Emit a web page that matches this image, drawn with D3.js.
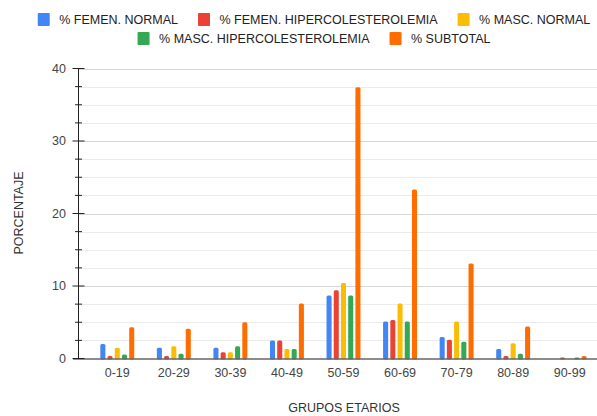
<!DOCTYPE html>
<html>
<head>
<meta charset="utf-8">
<script src="https://cdn.jsdelivr.net/npm/d3@7"></script>
<style>
  body { margin: 0; background: #fff; }
  text { font-family: "Liberation Sans", Arial, sans-serif; }
</style>
</head>
<body>
<script>
var width = 597,
    height = 416;

// age groups
var groups = ["0-19", "20-29", "30-39", "40-49", "50-59", "60-69", "70-79", "80-89", "90-99"];

// series names + colours
var seriesNames = ["% FEMEN. NORMAL", "% FEMEN. HIPERCOLESTEROLEMIA", "% MASC. NORMAL",
                   "% MASC. HIPERCOLESTEROLEMIA", "% SUBTOTAL"];
var colors = ["#4285F4", "#EA4335", "#FBBC04", "#34A853", "#FF6D01"];

// values
var femNormal = [2.0, 1.5, 1.5, 2.5, 8.7, 5.1, 2.95, 1.3, 0];
var femHiper  = [0.35, 0.35, 0.85, 2.5, 9.4, 5.3, 2.6, 0.35, 0.15];
var mascNormal = [1.5, 1.7, 0.85, 1.3, 10.4, 7.6, 5.1, 2.1, 0];
var mascHiper = [0.55, 0.65, 1.7, 1.3, 8.7, 5.1, 2.3, 0.65, 0.15];
var subtotal  = [4.3, 4.1, 5.0, 7.6, 37.4, 23.3, 13.1, 4.4, 0.35];

var yTicks = [0, 10, 20, 30, 40];
var yMinor = [2.5, 5, 7.5, 12.5, 15, 17.5, 22.5, 25, 27.5, 32.5, 35, 37.5];

var allSeries = [femNormal, femHiper, mascNormal, mascHiper, subtotal];

var plotLeft = 78.5, plotRight = 597, plotTop = 68.5, plotBottom = 358.5;

var svg = d3.select("body").append("svg")
    .attr("width", width)
    .attr("height", height);

var x0 = d3.scaleBand()
    .domain(groups)
    .range([89, 598])
    .paddingInner(0.4)
    .paddingOuter(0.2);

var x1 = d3.scaleBand()
    .domain(d3.range(seriesNames.length))
    .range([0, x0.bandwidth()])
    .paddingInner(0.3);

var y = d3.scaleLinear()
    .domain([0, 40])
    .range([plotBottom, plotTop]);

// gridlines
svg.append("g").selectAll("line")
    .data(yMinor)
    .enter().append("line")
    .attr("x1", plotLeft).attr("x2", plotRight)
    .attr("y1", function(d) { return Math.round(y(d)) + 0.5; })
    .attr("y2", function(d) { return Math.round(y(d)) + 0.5; })
    .attr("stroke", "#ebebeb");

svg.append("g").selectAll("line")
    .data(yTicks.slice(1))
    .enter().append("line")
    .attr("x1", plotLeft).attr("x2", plotRight)
    .attr("y1", function(d) { return Math.round(y(d)) + 0.5; })
    .attr("y2", function(d) { return Math.round(y(d)) + 0.5; })
    .attr("stroke", "#d6d6d6");

// bars
var rows = groups.map(function(g, i) {
    return allSeries.map(function(s, k) { return { g: g, k: k, v: s[i] }; });
});

svg.append("g").selectAll("g")
    .data(rows)
    .enter().append("g")
    .attr("transform", function(d, i) { return "translate(" + x0(groups[i]) + ",0)"; })
    .selectAll("rect")
    .data(function(d) { return d.filter(function(e) { return e.v > 0; }); })
    .enter().append("rect")
    .attr("x", function(d) { return x1(d.k); })
    .attr("width", x1.bandwidth())
    .attr("y", function(d) { return y(d.v); })
    .attr("height", function(d) { return Math.max(plotBottom - y(d.v) + 1, 2); })
    .attr("rx", 1.5)
    .attr("fill", function(d) { return colors[d.k]; });

// baseline
svg.append("line")
    .attr("x1", 73).attr("x2", plotRight)
    .attr("y1", plotBottom + 0.5).attr("y2", plotBottom + 0.5)
    .attr("stroke", "#666")
    .attr("stroke-width", 1.5);

// y axis
var yAxis = svg.append("g").attr("transform", "translate(" + plotLeft + ",0)");
yAxis.append("line")
    .attr("y1", plotTop).attr("y2", plotBottom)
    .attr("stroke", "#222");
yAxis.selectAll(".major")
    .data(yTicks)
    .enter().append("line")
    .attr("class", "major")
    .attr("x1", -6).attr("x2", 6)
    .attr("y1", function(d) { return y(d); })
    .attr("y2", function(d) { return y(d); })
    .attr("stroke", "#222");
yAxis.selectAll(".minor")
    .data(yMinor)
    .enter().append("line")
    .attr("class", "minor")
    .attr("x1", -3.5).attr("x2", 3.5)
    .attr("y1", function(d) { return y(d); })
    .attr("y2", function(d) { return y(d); })
    .attr("stroke", "#222");
yAxis.selectAll("text")
    .data(yTicks)
    .enter().append("text")
    .attr("x", -12.5)
    .attr("y", function(d) { return y(d); })
    .attr("dy", "0.35em")
    .attr("text-anchor", "end")
    .attr("font-size", 12.5)
    .attr("fill", "#444")
    .text(function(d) { return d; });

// x labels
svg.append("g").selectAll("text")
    .data(groups)
    .enter().append("text")
    .attr("x", function(d) { return x0(d) + x0.bandwidth() / 2; })
    .attr("y", 373)
    .attr("dy", "0.35em")
    .attr("text-anchor", "middle")
    .attr("font-size", 12.5)
    .attr("fill", "#444")
    .text(function(d) { return d; });

// axis titles
svg.append("text")
    .attr("x", 344).attr("y", 408)
    .attr("dy", "0.35em")
    .attr("text-anchor", "middle")
    .attr("font-size", 12.5)
    .attr("fill", "#333")
    .text("GRUPOS ETARIOS");

svg.append("text")
    .attr("transform", "translate(19,213) rotate(-90)")
    .attr("dy", "0.35em")
    .attr("text-anchor", "middle")
    .attr("font-size", 12.5)
    .attr("fill", "#333")
    .text("PORCENTAJE");

// legend, two centred rows
var legendRows = [[0, 1, 2], [3, 4]];
legendRows.forEach(function(row, r) {
    var cy = 19.5 + r * 19;
    var g = svg.append("g");
    var xpos = 0;
    row.forEach(function(k) {
        g.append("rect")
            .attr("x", xpos).attr("y", cy - 6.5)
            .attr("width", 12).attr("height", 13)
            .attr("rx", 1)
            .attr("fill", colors[k]);
        var t = g.append("text")
            .attr("x", xpos + 21.5).attr("y", cy)
            .attr("dy", "0.35em")
            .attr("font-size", 12.5)
            .attr("fill", "#222")
            .text(seriesNames[k]);
        xpos += 21.5 + t.node().getComputedTextLength() + 20;
    });
    var w = xpos - 20;
    g.attr("transform", "translate(" + (314 - w / 2) + ",0)");
});
</script>
</body>
</html>
